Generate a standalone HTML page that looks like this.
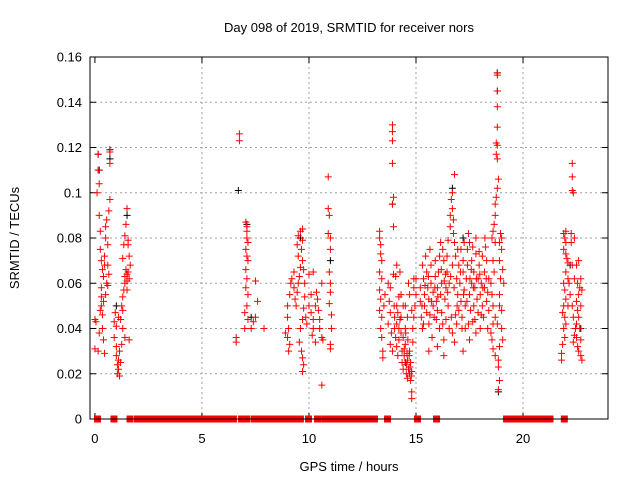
<!DOCTYPE html>
<html><head><meta charset="utf-8"><style>
body{margin:0;background:#fff;}
svg{display:block;font-family:"Liberation Sans",sans-serif;}
</style></head><body>
<svg id="chart" width="640" height="480" viewBox="0 0 640 480">
<rect x="0" y="0" width="640" height="480" fill="#fff"/>
<text x="349" y="32" font-size="13" text-anchor="middle">Day 098 of 2019, SRMTID for receiver nors</text>
<g id="grid"></g>
<g id="ticks"></g>
<g id="black"></g>
<g id="red"></g>
<g id="zero"></g>
<rect x="90" y="57" width="518" height="362" fill="none" stroke="#000" stroke-width="1"/>
<text x="349" y="471" font-size="13" text-anchor="middle">GPS time / hours</text>
<text x="19" y="238" font-size="13" text-anchor="middle" transform="rotate(-90 19 238)">SRMTID / TECUs</text>
</svg>
<script>
const xTicks=[0,5,10,15,20];
const xTickLabels=["0","5","10","15","20"];
const yTicks=[0,0.02,0.04,0.06,0.08,0.1,0.12,0.14,0.16];
const yTickLabels=["0","0.02","0.04","0.06","0.08","0.1","0.12","0.14","0.16"];
const redPts=[
[0.0,0.031],[0.0,0.044],[0.05,0.043],[0.1,0.1],[0.15,0.117],[0.15,0.11],[0.2,0.104],[0.2,0.09],[0.25,0.083],[0.25,0.075],[0.3,0.07],[0.3,0.058],[0.3,0.05],[0.35,0.046],[0.35,0.04],[0.4,0.035],[0.4,0.063],[0.45,0.068],[0.45,0.072],[0.5,0.08],[0.5,0.085],[0.55,0.088],[0.55,0.06],[0.5,0.055],[0.6,0.077],[0.6,0.068],[0.65,0.092],[0.7,0.097],[0.3,0.054],[0.25,0.048],[0.4,0.052],[0.35,0.066],[0.7,0.118],[0.7,0.113],[0.2,0.038],[0.15,0.03],[0.45,0.029],[0.6,0.059],[0.65,0.064],
[0.9,0.043],[0.9,0.036],[0.95,0.047],[1.0,0.032],[1.0,0.028],[1.05,0.024],[1.05,0.02],[1.1,0.022],[1.1,0.026],[1.15,0.03],[1.2,0.025],[1.15,0.019],[1.0,0.041],[1.1,0.045],[1.2,0.044],[1.25,0.05],[1.3,0.048],[1.3,0.054],[1.35,0.057],[1.4,0.06],[1.4,0.063],[1.45,0.066],[1.5,0.064],[1.5,0.061],[1.55,0.065],[1.3,0.071],[1.35,0.077],[1.4,0.081],[1.45,0.086],[1.5,0.093],[1.55,0.077],[1.6,0.072],[1.55,0.079],[1.6,0.062],[1.65,0.068],[1.3,0.04],[1.4,0.036],[1.25,0.033],[1.6,0.035],[1.5,0.057],
[6.6,0.034],[6.6,0.036],[6.75,0.126],[6.75,0.123],[7.05,0.087],[7.1,0.085],[7.1,0.083],[7.1,0.08],[7.15,0.078],[7.05,0.075],[7.1,0.072],[7.15,0.07],[7.05,0.066],[7.1,0.062],[7.05,0.058],[7.15,0.055],[7.1,0.05],[7.0,0.047],[7.0,0.04],[7.15,0.044],[7.3,0.04],[7.5,0.045],[7.4,0.043],[7.6,0.052],[7.5,0.061],[7.9,0.04],
[9.0,0.05],[9.0,0.045],[9.05,0.04],[9.0,0.036],[9.1,0.033],[9.05,0.03],[9.1,0.055],[9.15,0.06],[9.2,0.062],[9.3,0.065],[9.3,0.058],[9.35,0.053],[9.4,0.05],[9.45,0.056],[9.5,0.06],[9.55,0.063],[9.6,0.067],[9.5,0.072],[9.45,0.077],[9.5,0.081],[9.6,0.083],[9.7,0.084],[9.7,0.079],[9.65,0.075],[9.7,0.07],[9.75,0.066],[9.8,0.06],[9.8,0.054],[9.75,0.049],[9.7,0.044],[9.6,0.04],[9.55,0.034],[9.65,0.03],[9.7,0.027],[9.75,0.024],[9.7,0.021],[9.85,0.045],[9.9,0.042],[10.0,0.05],[10.1,0.055],[10.1,0.047],[10.2,0.044],[10.2,0.04],[10.15,0.037],[10.3,0.034],[10.3,0.05],[10.35,0.056],[10.4,0.053],[10.45,0.048],[10.5,0.044],[10.5,0.04],[10.6,0.036],[10.6,0.015],[10.6,0.06],[10.65,0.035],[10.2,0.065],[10.0,0.064],[10.9,0.107],[10.9,0.093],[10.95,0.09],[10.9,0.082],[11.0,0.08],[11.0,0.075],[10.95,0.065],[11.0,0.06],[11.0,0.056],[10.95,0.051],[11.05,0.046],[11.05,0.04],[11.0,0.033],[11.0,0.031],[8.9,0.038],
[13.3,0.083],[13.3,0.08],[13.35,0.077],[13.35,0.073],[13.4,0.07],[13.3,0.065],[13.4,0.062],[13.3,0.057],[13.35,0.053],[13.3,0.048],[13.4,0.045],[13.35,0.04],[13.4,0.036],[13.45,0.03],[13.45,0.027],[13.5,0.05],[13.55,0.055],[13.9,0.13],[13.9,0.127],[13.9,0.123],[13.9,0.113],[13.95,0.098],[13.9,0.095],[13.95,0.085],[13.95,0.064],[13.7,0.06],[13.8,0.058],[13.75,0.052],[13.8,0.047],[13.7,0.042],[13.85,0.038],[13.8,0.033],[13.9,0.03],[14.0,0.045],[14.0,0.04],[14.05,0.036],[14.1,0.042],[14.1,0.032],[14.15,0.028],[14.2,0.035],[14.2,0.04],[14.25,0.044],[14.1,0.05],[14.2,0.054],[14.05,0.063],[14.1,0.068],[14.25,0.065],[14.3,0.045],[14.3,0.038],[14.35,0.03],[14.35,0.025],[14.4,0.022],[14.45,0.028],[14.4,0.036],[14.5,0.04],[14.5,0.033],[14.55,0.024],[14.55,0.02],[14.6,0.018],[14.65,0.022],[14.6,0.026],[14.7,0.02],[14.7,0.03],[14.75,0.025],[14.75,0.017],[14.8,0.021],[14.8,0.012],[14.85,0.034],[14.5,0.05],[14.6,0.045],[14.7,0.055],[14.65,0.06],[14.8,0.048],[14.85,0.04],[14.9,0.045],[14.9,0.058],[14.95,0.05],[15.0,0.055],[15.0,0.062],[14.9,0.062],[14.8,0.009],[14.4,0.05],[14.3,0.055],
[14.45,0.031],[14.62,0.035],[14.68,0.028],[14.72,0.023],[14.58,0.029],[14.52,0.038],[14.78,0.019],[14.15,0.047],[13.98,0.05],
[15.2,0.058],[15.2,0.052],[15.25,0.045],[15.3,0.068],[15.3,0.04],[15.35,0.062],[15.4,0.055],[15.4,0.05],[15.45,0.072],[15.5,0.065],[15.5,0.047],[15.55,0.058],[15.6,0.053],[15.6,0.042],[15.65,0.075],[15.7,0.068],[15.7,0.06],[15.75,0.036],[15.8,0.05],[15.8,0.056],[15.85,0.045],[15.9,0.063],[15.9,0.07],[15.95,0.052],[16.0,0.048],[16.0,0.058],[16.05,0.065],[16.1,0.072],[16.1,0.04],[16.15,0.055],[16.2,0.06],[16.2,0.047],[16.25,0.075],[16.3,0.07],[16.3,0.035],[16.35,0.053],[16.4,0.058],[16.4,0.044],[16.45,0.065],[16.5,0.079],[16.5,0.05],[16.55,0.06],[16.6,0.085],[16.6,0.09],[16.65,0.097],[16.7,0.1],[16.7,0.093],[16.75,0.088],[16.8,0.108],[16.75,0.082],[16.8,0.078],[16.85,0.072],[16.7,0.068],[16.65,0.045],[16.7,0.038],[16.8,0.034],[16.9,0.042],[16.9,0.062],[16.95,0.055],[17.0,0.048],[17.0,0.068],[17.05,0.06],[17.1,0.075],[17.1,0.052],[17.15,0.045],[17.2,0.065],[17.2,0.07],[17.25,0.057],[17.3,0.05],[17.3,0.04],[17.35,0.062],[17.4,0.068],[17.4,0.075],[17.45,0.082],[17.5,0.078],[17.5,0.055],[17.55,0.048],[17.6,0.06],[17.6,0.07],[17.65,0.043],[17.7,0.05],[17.7,0.065],[17.75,0.058],[17.8,0.073],[17.8,0.08],[17.85,0.053],[17.9,0.047],[17.9,0.062],[17.95,0.068],[18.0,0.055],[18.0,0.04],[18.05,0.06],[18.1,0.072],[18.1,0.05],[18.15,0.045],[18.2,0.065],[18.2,0.058],[18.25,0.076],[18.3,0.07],[18.3,0.052],[18.35,0.04],[18.4,0.048],[18.4,0.062],[15.6,0.03],[16.0,0.032],[16.3,0.028],[17.2,0.03],[17.5,0.035],[17.8,0.038],
[15.28,0.05],[15.42,0.059],[15.58,0.063],[15.72,0.052],[15.88,0.058],[16.02,0.054],[16.18,0.066],[16.32,0.061],[16.48,0.056],[16.62,0.063],[16.78,0.058],[16.92,0.05],[17.08,0.065],[17.22,0.055],[17.38,0.052],[17.52,0.062],[17.68,0.058],[17.82,0.062],[17.98,0.064],[18.12,0.058],[18.28,0.062],[15.35,0.042],[15.65,0.046],[15.95,0.044],[16.25,0.042],[16.55,0.04],[16.85,0.046],[17.15,0.04],[17.45,0.042],[17.75,0.044],[18.05,0.046],[18.35,0.056],[16.15,0.078],[16.45,0.072],[16.95,0.075],[17.25,0.078],[17.65,0.076],[17.95,0.074],[18.22,0.08],[16.38,0.064],[17.58,0.066],
[18.8,0.153],[18.8,0.152],[18.8,0.145],[18.8,0.138],[18.8,0.129],[18.75,0.122],[18.8,0.121],[18.75,0.117],[18.8,0.115],[18.85,0.106],[18.8,0.102],[18.75,0.098],[18.7,0.095],[18.7,0.09],[18.6,0.083],[18.65,0.086],[18.55,0.08],[18.7,0.078],[18.9,0.078],[18.95,0.082],[19.0,0.08],[19.0,0.075],[18.9,0.07],[19.05,0.066],[18.95,0.062],[18.6,0.07],[18.65,0.065],[18.5,0.06],[18.55,0.055],[18.6,0.05],[18.7,0.045],[18.6,0.042],[18.5,0.038],[18.55,0.035],[18.6,0.031],[18.7,0.028],[18.8,0.042],[18.9,0.05],[18.9,0.055],[19.0,0.048],[19.0,0.04],[19.05,0.035],[18.9,0.032],[18.85,0.026],[18.85,0.023],[18.9,0.017],[18.85,0.013],[19.1,0.06],
[22.3,0.113],[22.3,0.107],[22.3,0.101],[22.35,0.1],[21.9,0.082],[21.95,0.08],[22.0,0.083],[22.0,0.078],[21.9,0.075],[22.0,0.073],[22.05,0.071],[22.1,0.069],[22.0,0.065],[22.1,0.062],[21.9,0.06],[22.15,0.06],[21.95,0.057],[22.0,0.053],[22.1,0.05],[21.9,0.05],[21.85,0.047],[21.95,0.045],[22.0,0.042],[21.9,0.04],[21.95,0.036],[21.85,0.033],[21.8,0.029],[21.8,0.026],[22.25,0.082],[22.25,0.078],[22.4,0.08],[22.4,0.062],[22.3,0.068],[22.2,0.055],[22.3,0.05],[22.35,0.045],[22.5,0.068],[22.6,0.07],[22.55,0.06],[22.65,0.058],[22.6,0.055],[22.5,0.052],[22.55,0.048],[22.6,0.045],[22.5,0.042],[22.45,0.04],[22.5,0.036],[22.55,0.032],[22.6,0.03],[22.4,0.037],[22.35,0.034],[22.7,0.062],[22.75,0.057],[22.7,0.035],[22.7,0.028],[22.75,0.026],[22.65,0.04],[22.7,0.05]
];
const blackPts=[[0.15,0.117],[0.2,0.11],[0.7,0.119],[0.7,0.115],[1.5,0.09],[1.0,0.05],[6.7,0.101],[7.1,0.086],[7.3,0.045],[9.6,0.08],[11.0,0.07],[13.9,0.095],[14.5,0.025],[16.7,0.102],[17.2,0.08],[18.8,0.153],[18.85,0.012],[18.8,0.145],[22.2,0.068],[22.7,0.04]];
const zeroRanges=[[0.12,0.12],[0.89,0.89],[1.64,1.64],[1.99,6.47],[6.85,7.1],[7.45,8.83],[9.09,9.39],[9.6,9.6],[9.98,9.98],[10.4,10.4],[10.73,10.96],[11.19,13.06],[13.67,13.67],[15.07,15.07],[15.96,15.96],[19.23,21.26],[21.93,21.93]];

const X0=90,X1=608,Y0=419,Y1=57,xmin=-0.23,xmax=23.97,ymin=0,ymax=0.16;
function xs(h){return X0+(h-xmin)/(xmax-xmin)*(X1-X0);}
function ys(v){return Y0-(v-ymin)/(ymax-ymin)*(Y0-Y1);}
const NS="http://www.w3.org/2000/svg";
function mk(t,a){const e=document.createElementNS(NS,t);for(const k in a)e.setAttribute(k,a[k]);return e;}
const grid=document.getElementById('grid'),ticks=document.getElementById('ticks');
yTicks.forEach((v,i)=>{
  const y=ys(v);
  if(i>0&&i<yTicks.length-1){const g=mk('line',{x1:X0,x2:X1,y1:y,y2:y,stroke:'#a0a0a0','stroke-dasharray':'2,3'});
  
  grid.appendChild(g);}
  const t1=mk('line',{x1:X0,x2:X0+6,y1:y,y2:y,stroke:'#000'});
  
  ticks.appendChild(t1);
  const t2=mk('line',{x1:X1,x2:X1-6,y1:y,y2:y,stroke:'#000'});
  
  ticks.appendChild(t2);
  const l=mk('text',{x:X0-8,y:y+4.5,'font-size':13,'text-anchor':'end'});l.textContent=yTickLabels[i];
  
  ticks.appendChild(l);
});
xTicks.forEach((h,i)=>{
  const x=xs(h);
  if(h>0){const g=mk('line',{x1:x,x2:x,y1:Y0,y2:Y1,stroke:'#a0a0a0','stroke-dasharray':'2,3'});
  
  grid.appendChild(g);}
  const t1=mk('line',{x1:x,x2:x,y1:Y0,y2:Y0-6,stroke:'#000'});
  
  ticks.appendChild(t1);
  const t2=mk('line',{x1:x,x2:x,y1:Y1,y2:Y1+6,stroke:'#000'});
  
  ticks.appendChild(t2);
  const l=mk('text',{x:x,y:Y0+24,'font-size':13,'text-anchor':'middle'});l.textContent=xTickLabels[i];
  
  ticks.appendChild(l);
});
function plus(g,h,v,col,name){
  const x=xs(h),y=ys(v);
  const p=mk('path',{d:`M${x-3.5} ${y}H${x+3.5}M${x} ${y-3.5}V${y+3.5}`,stroke:col,'stroke-width':1,fill:'none'});
  
  
  g.appendChild(p);
}
const gb=document.getElementById('black'),gr=document.getElementById('red'),gz=document.getElementById('zero');
blackPts.forEach(p=>plus(gb,p[0],p[1],'#000','black-point'));
redPts.forEach(p=>plus(gr,p[0],p[1],'#ff0000','red-point'));
zeroRanges.forEach(r=>{
  const x0=xs(r[0])-3.5,x1=xs(r[1])+3.5,y=ys(0);
  const rc=mk('rect',{x:x0,y:y-3.5,width:x1-x0,height:7,fill:'#ff0000'});
  
  
  gz.appendChild(rc);
});
</script>
</body></html>
